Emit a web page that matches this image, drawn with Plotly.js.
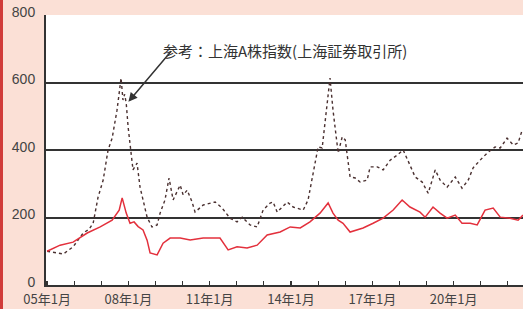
<!DOCTYPE html>
<html>
<head>
<meta charset="utf-8">
<script src="https://cdn.plot.ly/plotly-3.0.1.min.js"></script>
<style>html,body{margin:0;padding:0;background:#fbe0d6;}#chart{width:523px;height:309px;}</style>
</head>
<body>
<div id="chart"></div>
<script>
// Shanghai A-share index (dotted), x in decimal years
const shX = [2005.00,2005.36,2005.60,2005.96,2006.33,2006.55,2006.70,2006.88,2007.07,2007.25,2007.40,2007.58,2007.73,2007.80,2007.86,2007.92,2007.99,2008.17,2008.32,2008.43,2008.69,2008.87,2009.06,2009.17,2009.35,2009.50,2009.65,2009.91,2010.02,2010.17,2010.35,2010.46,2010.76,2011.20,2011.46,2011.75,2012.01,2012.20,2012.49,2012.75,2012.97,2013.23,2013.34,2013.49,2013.86,2014.08,2014.45,2014.63,2014.82,2015.00,2015.15,2015.33,2015.44,2015.55,2015.74,2015.89,2016.00,2016.18,2016.37,2016.55,2016.81,2016.92,2017.18,2017.40,2017.66,2017.92,2018.14,2018.39,2018.58,2018.84,2019.06,2019.21,2019.32,2019.50,2019.76,2020.06,2020.31,2020.54,2020.72,2020.98,2021.24,2021.53,2021.72,2021.97,2022.20,2022.38,2022.53];
const shY = [100,96,92,113,154,165,183,260,311,400,435,518,613,548,565,539,468,341,361,290,201,172,178,213,252,317,252,296,267,281,246,216,237,246,228,198,187,201,178,172,222,243,246,216,246,231,222,252,332,409,406,539,613,518,391,439,430,320,317,305,311,350,350,341,370,385,400,355,320,305,272,311,341,311,290,320,287,311,347,370,391,409,406,435,415,421,459];
// Comparison series (solid red)
const rdX = [2005.00,2005.48,2005.96,2006.48,2006.96,2007.40,2007.66,2007.77,2007.92,2008.06,2008.21,2008.36,2008.54,2008.69,2008.80,2009.06,2009.28,2009.54,2009.91,2010.28,2010.76,2011.38,2011.68,2012.01,2012.38,2012.75,2013.12,2013.60,2013.97,2014.34,2014.70,2015.07,2015.37,2015.55,2015.74,2015.92,2016.18,2016.44,2016.66,2017.03,2017.40,2017.77,2017.92,2018.10,2018.39,2018.76,2018.95,2019.24,2019.50,2019.76,2020.06,2020.31,2020.61,2020.87,2021.16,2021.46,2021.72,2022.08,2022.38,2022.56];
const rdY = [100,118,127,154,172,192,222,258,213,183,187,173,163,133,95,89,124,139,139,133,139,139,104,113,110,118,148,157,172,169,187,213,243,213,192,183,157,163,169,183,198,222,237,252,231,216,201,231,213,198,207,183,183,178,222,228,201,198,192,207];
const tickVals = [2005,2006,2007,2008,2009,2010,2011,2012,2013,2014,2015,2016,2017,2018,2019,2020,2021,2022];
const tickText = ['05年1月','','','08年1月','','','11年1月','','','14年1月','','','17年1月','','','20年1月','',''];
const yTicks = [0,200,400,600,800];
const noteText = '参考：上海A株指数(上海証券取引所)';

const traces = [
  {x: shX, y: shY, mode: 'lines', line: {color: '#4a3030', width: 1.4, dash: 'dot'}, hoverinfo: 'skip'},
  {x: rdX, y: rdY, mode: 'lines', line: {color: '#e3303c', width: 1.5}, hoverinfo: 'skip'}
];
const layout = {
  width: 523, height: 309,
  margin: {l: 46, r: 0, t: 15, b: 24},
  paper_bgcolor: '#fbe0d6', plot_bgcolor: '#ffffff',
  showlegend: false,
  font: {family: '"Liberation Sans", "Noto Sans CJK JP", sans-serif', color: '#444'},
  xaxis: {range: [2004.96, 2022.56], tickvals: tickVals, ticktext: tickText, ticks: 'inside', ticklen: 4, tickwidth: 1.2, tickcolor: '#333',
          showgrid: false, zeroline: false, showline: true, linecolor: '#333', linewidth: 2,
          tickfont: {size: 13, family: '"Noto Sans CJK JP", sans-serif', color: '#444'}, ticklabelstandoff: 1},
  yaxis: {range: [0, 800], tickvals: yTicks, showgrid: true, gridcolor: '#333', gridwidth: 2, zeroline: false,
          showline: true, linecolor: '#333', linewidth: 2, ticks: '', ticklabelstandoff: 6, ticklabelshift: -3,
          tickfont: {size: 14, color: '#444'}},
  annotations: [
    {xref: 'paper', yref: 'paper', x: 0.501, y: 0.915, text: noteText, showarrow: false,
     font: {size: 15, family: '"Noto Sans CJK JP", sans-serif', color: '#333'}},
    {x: 2008.0, y: 543, xref: 'x', yref: 'y', text: '', showarrow: true, ax: 44, ay: -52,
     arrowhead: 2, arrowsize: 1.2, arrowwidth: 1.5, arrowcolor: '#333', standoff: 0}
  ],
  shapes: [
    {type: 'rect', xref: 'paper', yref: 'paper', x0: -46/477, x1: -43/477, y0: -24/270, y1: 1 + 15/270,
     fillcolor: '#d13c3a', line: {width: 0}}
  ]
};
Plotly.newPlot('chart', traces, layout, {displayModeBar: false, staticPlot: true});
</script>
</body>
</html>
